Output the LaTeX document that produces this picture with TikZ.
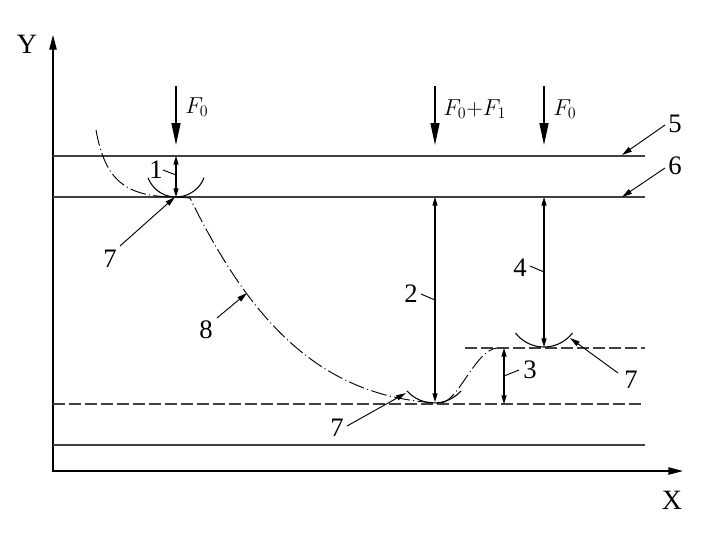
\documentclass[tikz,border=0pt]{standalone}
\usepackage{fontspec}
\usetikzlibrary{arrows.meta}
\newfontfamily\labfont{Liberation Serif}
\definecolor{ln}{HTML}{404040}
\begin{document}
\begin{tikzpicture}[x=0.75pt,y=-0.75pt,
  hline/.style={draw=ln, line width=0.9pt},
  dashline/.style={hline, dash pattern=on 9pt off 3pt},
  axisline/.style={-{Triangle[length=11pt,width=5.5pt]}, line width=1pt},
  force/.style={-{Triangle[length=16.5pt,width=6.75pt]}, line width=1pt},
  dimen/.style={{Triangle[length=6.5pt,width=3.8pt]}-{Triangle[length=6.5pt,width=3.8pt]}, line width=0.8pt},
  leader/.style={-{Triangle[length=7.5pt,width=4pt]}, line width=0.7pt},
  ticker/.style={line width=0.7pt},
  ball/.style={line width=0.8pt},
  curve/.style={line width=0.7pt, dash pattern=on 12pt off 2.5pt on 0.8pt off 2.5pt},
  num/.style={font=\labfont\fontsize{20}{24}\selectfont, inner sep=0pt},
  axlab/.style={font=\labfont\fontsize{21}{24}\selectfont, inner sep=0pt},
  flab/.style={font=\fontsize{16.5}{19}\selectfont, inner sep=0pt, anchor=west}]
\useasboundingbox (0,0) rectangle (709,539);

% axes
\coordinate (O) at (53,471);
\coordinate (Ytop) at (53,35);
\coordinate (Xend) at (683,471);
\draw[axisline] (53,472) -- (Ytop);
\draw[axisline] (O) -- (Xend);
\node[axlab] (Y) at (27,44) {Y};
\node[axlab] (X) at (672,500) {X};

% horizontal lines
\coordinate (l5a) at (53,156); \coordinate (l5b) at (645,156);
\coordinate (l6a) at (53,197); \coordinate (l6b) at (645,197);
\coordinate (dua) at (465,348); \coordinate (dub) at (645,348);
\coordinate (dla) at (53,404); \coordinate (dlb) at (645,404);
\coordinate (bsa) at (53,445); \coordinate (bsb) at (645,445);
\draw[hline] (l5a) -- (l5b);
\draw[hline] (l6a) -- (l6b);
\draw[dashline] (dua) -- (dub);
\draw[dashline] (dla) -- (dlb);
\draw[hline] (bsa) -- (bsb);

% forces
\coordinate (f1s) at (176,86); \coordinate (f1e) at (176,145);
\coordinate (f2s) at (435,86); \coordinate (f2e) at (435,145);
\coordinate (f3s) at (544,86); \coordinate (f3e) at (544,145);
\draw[force] (f1s) -- (f1e);
\draw[force] (f2s) -- (f2e);
\draw[force] (f3s) -- (f3e);
\node[flab] (F1) at (185,107) {$F_0$};
\node[flab] (F2) at (443,109) {$F_0{+}F_1$};
\node[flab] (F3) at (553,109) {$F_0$};

% indenter balls
\coordinate (b1) at (176,167);
\coordinate (b2) at (434,366.6);
\coordinate (b3) at (544,311);
\draw[ball] (b1) ++(-21:22.5pt) arc[start angle=-21, end angle=-159, radius=22.5pt];
\draw[ball] (b2) ++(-42:27.3pt) arc[start angle=-42, end angle=-138, radius=27.3pt];
\draw[ball] (b3) ++(-37.7:27pt) arc[start angle=-37.7, end angle=-142.3, radius=27pt];

% curve 8
\draw[curve] (96,130) .. controls (105,180) and (125,197) .. (176,197) -- (190,198)
  .. controls (250,320) and (320,398) .. (440,403)
  .. controls (458,403) and (475,350) .. (497,348);

% dimension arrows
\coordinate (d1a) at (176,156); \coordinate (d1b) at (176,197);
\coordinate (d2a) at (435,197); \coordinate (d2b) at (435,402);
\coordinate (d4a) at (544,197); \coordinate (d4b) at (544,347);
\coordinate (d3a) at (504,348); \coordinate (d3b) at (504,404);
\draw[dimen] (d1a) -- (d1b);
\draw[dimen] (d2a) -- (d2b);
\draw[dimen] (d4a) -- (d4b);
\draw[dimen] (d3a) -- (d3b);

% labels with ticks
\node[num] (n1) at (156,170) {1};
\coordinate (t1a) at (163,170); \coordinate (t1b) at (176,175);
\draw[ticker] (t1a) -- (t1b);
\node[num] (n2) at (411,294) {2};
\coordinate (t2a) at (421,294); \coordinate (t2b) at (435,300);
\draw[ticker] (t2a) -- (t2b);
\node[num] (n4) at (520,268) {4};
\coordinate (t4a) at (530,266); \coordinate (t4b) at (544,272);
\draw[ticker] (t4a) -- (t4b);
\node[num] (n3) at (530,370) {3};
\coordinate (t3a) at (519,370); \coordinate (t3b) at (504,376);
\draw[ticker] (t3a) -- (t3b);

% labels with leader arrows
\node[num] (n5) at (675,124) {5};
\coordinate (a5s) at (665,125); \coordinate (a5e) at (622,155);
\draw[leader] (a5s) -- (a5e);
\node[num] (n6) at (675,166) {6};
\coordinate (a6s) at (665,168); \coordinate (a6e) at (622,197);
\draw[leader] (a6s) -- (a6e);
\node[num] (n7a) at (110,259) {7};
\coordinate (a7as) at (120,246); \coordinate (a7ae) at (175,197);
\draw[leader] (a7as) -- (a7ae);
\node[num] (n7b) at (337,428) {7};
\coordinate (a7bs) at (347,426); \coordinate (a7be) at (406,393);
\draw[leader] (a7bs) -- (a7be);
\node[num] (n7c) at (631,380) {7};
\coordinate (a7cs) at (618,373); \coordinate (a7ce) at (570,338);
\draw[leader] (a7cs) -- (a7ce);
\node[num] (n8) at (206,330) {8};
\coordinate (a8s) at (217,318); \coordinate (a8e) at (247,293);
\draw[leader] (a8s) -- (a8e);
\end{tikzpicture}
\end{document}
